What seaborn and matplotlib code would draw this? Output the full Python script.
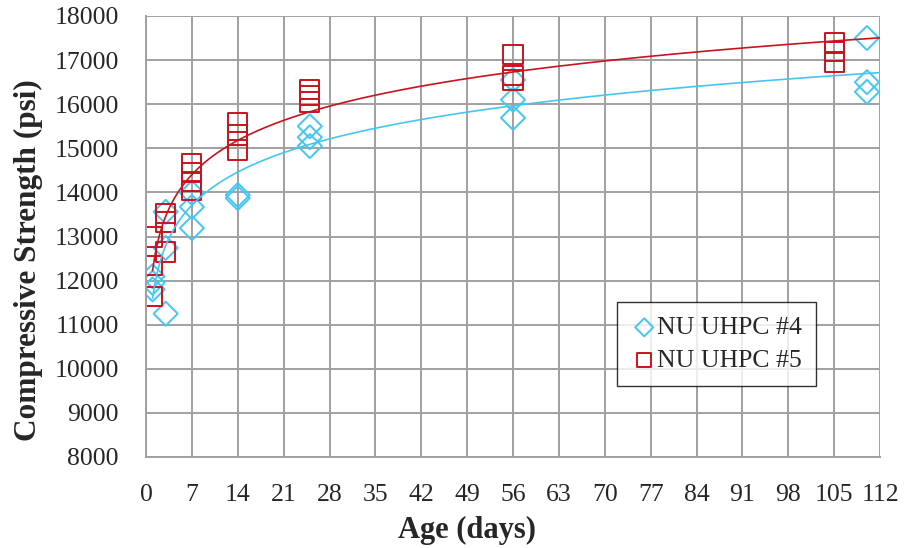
import numpy as np
import pandas as pd
import matplotlib
matplotlib.use('Agg')
import matplotlib.pyplot as plt
import seaborn as sns

# NU UHPC #4 (diamonds)
age_4 = [1, 1, 1, 3, 3, 3, 7, 7, 7, 14, 14, 25, 25, 25, 56, 56, 56, 110, 110, 110]
strength_4 = [12100, 11950, 11800, 11250, 12740, 13560, 13990, 13670, 13190,
              13940, 13870, 15500, 15250, 15050, 16550, 16100, 15690, 17500, 16500, 16280]

# NU UHPC #5 (squares)
age_5 = [1, 1, 1, 3, 3, 3, 7, 7, 7, 7, 14, 14, 14, 25, 25, 25, 56, 56, 56, 105, 105, 105]
strength_5 = [12990, 12350, 11630, 13530, 13330, 12650, 14650, 14450, 14250, 14050,
              15590, 15300, 14960, 16330, 16200, 16050, 17120, 16650, 16550, 17400, 17200, 16950]

x_ticks = list(range(0, 113, 7))
y_ticks = list(range(8000, 18001, 1000))

blue = '#45C6F2'
red = '#C8141E'
grid_col = '#A0A0A0'

sns.set_style('white')
plt.rcParams['font.family'] = ['Liberation Serif', 'DejaVu Serif']

df4 = pd.DataFrame({'age': age_4, 'strength': strength_4})
df5 = pd.DataFrame({'age': age_5, 'strength': strength_5})

fig = plt.figure(figsize=(9.06, 5.48), dpi=100)
ax = fig.add_axes([146 / 906, 1 - 457 / 548, 734 / 906, 441 / 548])

ax.set_xlim(0, 112)
ax.set_ylim(8000, 18000)
ax.set_xticks(x_ticks)
ax.set_yticks(y_ticks)
ax.grid(True, color=grid_col, linewidth=1.4)
ax.set_axisbelow(True)
for side in ['top', 'right']:
    ax.spines[side].set_visible(False)
for side in ['left', 'bottom']:
    ax.spines[side].set_color(grid_col)
    ax.spines[side].set_linewidth(1.4)
ax.tick_params(axis='both', direction='out', length=6.5, width=1.4, color=grid_col,
               labelsize=18.5)
ax.tick_params(axis='y', pad=13)
ax.tick_params(axis='x', pad=13)

# logarithmic trend lines (fit of strength against ln(age))
xs = np.linspace(1, 112, 300)
for d, col in [(df4, blue), (df5, red)]:
    b, a = np.polyfit(np.log(d['age']), d['strength'], 1)
    sns.lineplot(x=xs, y=a + b * np.log(xs), ax=ax, color=col, linewidth=1.2)

sns.scatterplot(data=df4, x='age', y='strength', ax=ax, marker='D', s=150,
                facecolor='none', edgecolor=blue, linewidth=1.4, label='NU UHPC #4')
sns.scatterplot(data=df5, x='age', y='strength', ax=ax, marker='s', s=190,
                facecolor='none', edgecolor=red, linewidth=1.4, label='NU UHPC #5')

ax.set_xlabel('Age (days)', fontsize=22, fontweight='bold')
ax.xaxis.set_label_coords(0.437, -0.134)
ax.set_ylabel('Compressive Strength (psi)', fontsize=22.5, fontweight='bold')
ax.yaxis.set_label_coords(-0.141, 0.447)

leg = ax.legend(loc='lower left', bbox_to_anchor=(0.642, 0.161), borderaxespad=0,
                fontsize=18.5, frameon=True, fancybox=False, edgecolor='black',
                handletextpad=0.0, handlelength=1.0, borderpad=0.55, labelspacing=0.38,
                markerscale=0.75)
leg.get_frame().set_linewidth(1.0)

fig.savefig('out.png', dpi=100)
